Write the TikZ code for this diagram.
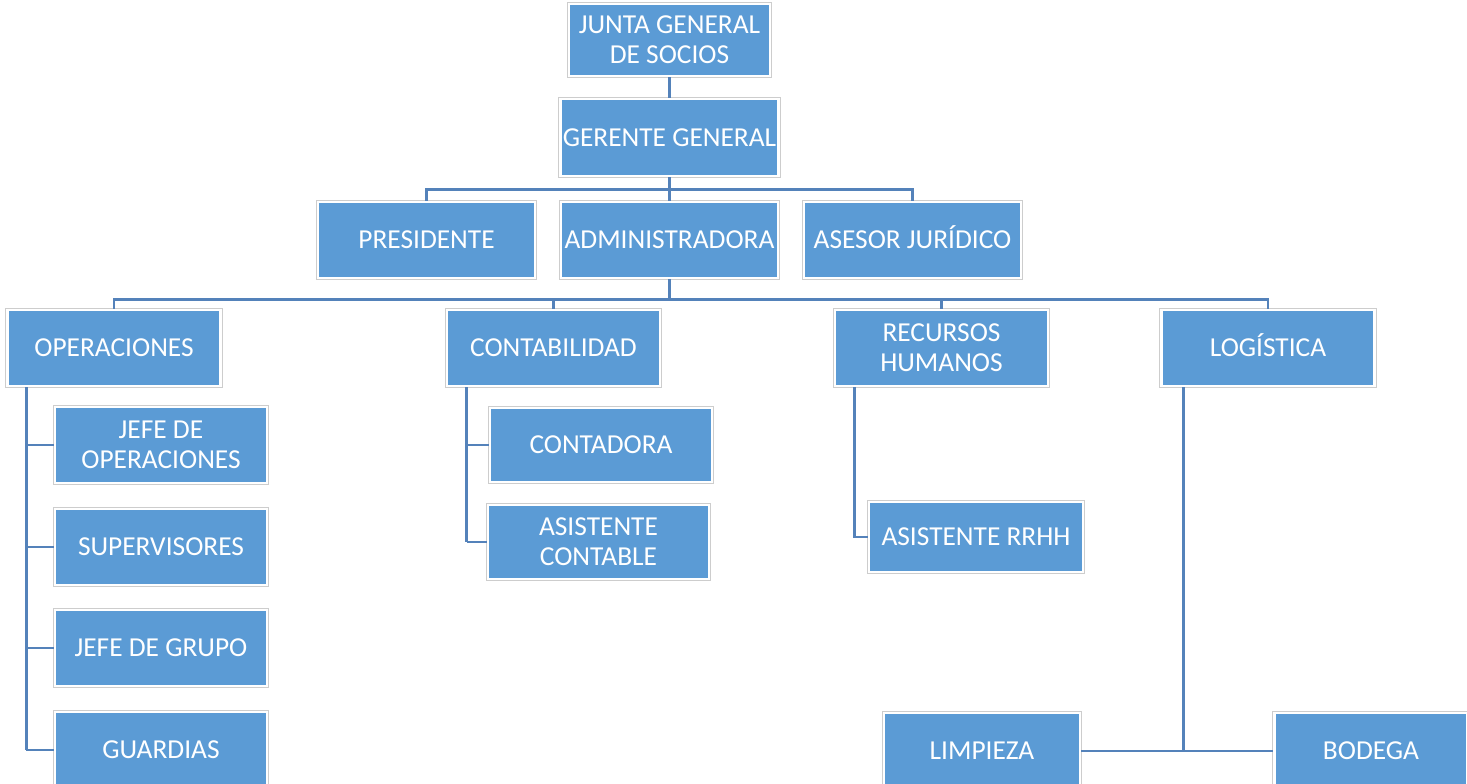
\documentclass[tikz,border=0pt]{standalone}
\usepackage{fontspec}
\setmainfont{Carlito}
\usetikzlibrary{positioning}

\definecolor{boxblue}{RGB}{91,155,213}
\definecolor{lineblue}{RGB}{84,130,186}
\definecolor{rimgray}{RGB}{205,205,205}

\tikzset{
  orgbox/.style={rectangle, fill=boxblue, draw=white, line width=1.2pt,
    preaction={draw=rimgray, line width=2.2pt},
    text=white, align=center, inner sep=1pt,
    minimum width=106.5pt, minimum height=38pt,
    font=\fontsize{13.7}{15}\selectfont},
  conn/.style={draw=lineblue, line width=1.4pt}
}

\begin{document}
\begin{tikzpicture}[x=0.5pt,y=-0.5pt]
    \useasboundingbox (0,0) rectangle (1467,783);

    % top of the chart
    \node [orgbox, minimum width=100.5pt, minimum height=36pt] (junta) at (669.5,40) {JUNTA GENERAL\\DE SOCIOS};
    \node [orgbox, minimum width=109pt, minimum height=38.5pt] (gerente) at (669.5,137.5) {GERENTE GENERAL};

    % second level
    \node [orgbox, minimum width=108.5pt] (presidente) at (426.5,240) {PRESIDENTE};
    \node [orgbox, minimum width=108.5pt] (admin) at (669.5,240) {ADMINISTRADORA};
    \node [orgbox, minimum width=108.5pt] (asesor) at (912.5,240) {ASESOR JUR\smash{Í}DICO};

    % departments
    \node [orgbox] (oper) at (114,348) {OPERACIONES};
    \node [orgbox] (conta) at (553.5,348) {CONTABILIDAD};
    \node [orgbox] (rrhh) at (941.5,348) {RECURSOS\\HUMANOS};
    \node [orgbox] (logis) at (1268,348) {LOG\smash{Í}STICA};

    % operaciones
    \node [orgbox, minimum width=106pt] (jefeop) at (161,445) {JEFE DE\\OPERACIONES};
    \node [orgbox, minimum width=106pt] (superv) at (161,547) {SUPERVISORES};
    \node [orgbox, minimum width=106pt] (jefegr) at (161,648) {JEFE DE GRUPO};
    \node [orgbox, minimum width=106pt] (guard) at (161,750) {GUARDIAS};

    % contabilidad
    \node [orgbox, minimum width=111pt, minimum height=37pt] (contadora) at (601,445) {CONTADORA};
    \node [orgbox, minimum width=110.5pt, minimum height=37pt] (asiscont) at (598.5,542) {ASISTENTE\\CONTABLE};

    % recursos humanos
    \node [orgbox, minimum width=107pt, minimum height=35pt] (asisrrhh) at (976,537) {ASISTENTE RRHH};

    % logistica
    \node [orgbox, minimum width=98pt] (limp) at (982,751) {LIMPIEZA};
    \node [orgbox, minimum width=96.5pt] (bodega) at (1371,751) {BODEGA};

    % connectors
    \draw [conn] (junta.south) -- (gerente.north);
    \draw [conn] (gerente.south) -- ++(0,12) coordinate (busA);
    \draw [conn] (presidente.north) |- (busA) -| (asesor.north);
    \draw [conn] (busA) -- (admin.north);

    \draw [conn] (admin.south) -- ++(0,20) coordinate (busB);
    \draw [conn] (oper.north) |- (busB) -| (logis.north);
    \draw [conn] (conta.north) |- (busB);
    \draw [conn] (rrhh.north) |- (busB);

    \draw [conn] (oper.south west) ++(20,0) coordinate (opTop) -- (opTop |- guard.west);
    \foreach \n in {jefeop,superv,jefegr,guard}
        \draw [conn] (opTop |- \n.west) -- (\n.west);

    \draw [conn] (conta.south west) ++(21,0) coordinate (coTop) -- (coTop |- asiscont.west);
    \foreach \n in {contadora,asiscont}
        \draw [conn] (coTop |- \n.west) -- (\n.west);

    \draw [conn] (rrhh.south west) ++(21,0) coordinate (rhTop) -- (rhTop |- asisrrhh.west) -- (asisrrhh.west);

    \draw [conn] (logis.south west) ++(23,0) coordinate (loTop) -- (loTop |- limp.east);
    \draw [conn] (limp.east) -- (bodega.west);

\end{tikzpicture}
\end{document}
